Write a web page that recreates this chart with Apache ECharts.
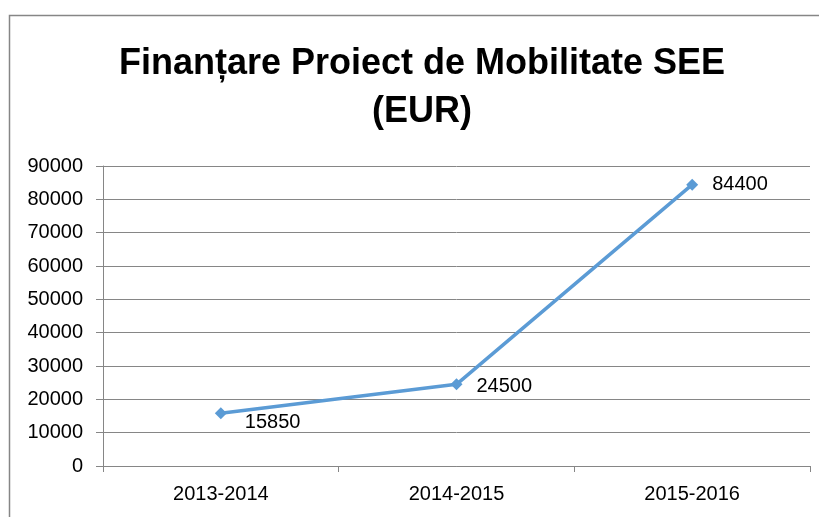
<!DOCTYPE html>
<html><head><meta charset="utf-8">
<script src="https://cdn.jsdelivr.net/npm/echarts@6/dist/echarts.min.js"></script>
<style>html,body{margin:0;padding:0;background:#fff}#c{width:819px;height:517px}</style>
</head><body><div id="c"></div>
<script>
var titleText = 'Finanțare Proiect de Mobilitate SEE\n(EUR)';
var categories = ['2013-2014', '2014-2015', '2015-2016'];
var values = [15850, 24500, 84400];
var yTicks = [0, 10000, 20000, 30000, 40000, 50000, 60000, 70000, 80000, 90000];

var fontFam = '"Liberation Sans", Arial, sans-serif';
var chart = echarts.init(document.getElementById('c'));
chart.setOption({
  animation: false,
  backgroundColor: '#fff',
  title: {
    text: titleText, left: 417, top: 35, textAlign: 'center',
    textStyle: { fontFamily: fontFam, fontWeight: 'bold', fontSize: 36, lineHeight: 48, color: '#000' }
  },
  graphic: [{
    type: 'polyline', silent: true,
    shape: { points: [[9.5, 520], [9.5, 15.5], [830, 15.5]] },
    style: { stroke: '#868686', lineWidth: 1.5, fill: null }
  }],
  grid: { left: 103, right: 9, top: 166, bottom: 51, containLabel: false },
  xAxis: {
    type: 'category', data: categories, boundaryGap: true,
    axisLine: { lineStyle: { color: '#868686', width: 1 } },
    axisTick: { show: true, length: 6, lineStyle: { color: '#868686' } },
    axisLabel: { color: '#000', fontFamily: fontFam, fontSize: 20, margin: 18 }
  },
  yAxis: {
    type: 'value', min: yTicks[0], max: yTicks[yTicks.length - 1], interval: 10000,
    axisLine: { show: true, lineStyle: { color: '#868686', width: 1 } },
    axisTick: { show: true, length: 7, lineStyle: { color: '#868686' } },
    splitLine: { show: true, lineStyle: { color: '#868686', width: 1 } },
    axisLabel: { color: '#000', fontFamily: fontFam, fontSize: 20, margin: 20,
      formatter: function (v) { return String(v); } }
  },
  series: [{
    type: 'line', data: values,
    symbol: 'diamond', symbolSize: 12,
    lineStyle: { color: '#5B9BD5', width: 3.5 },
    itemStyle: { color: '#5B9BD5' },
    label: {
      show: true, position: 'right', distance: 14, color: '#000',
      fontFamily: fontFam, fontSize: 20
    },
    labelLayout: function (p) {
      if (p.dataIndex === 0) { return { dx: 4, dy: 9 }; }
      if (p.dataIndex === 1) { return { dy: 2 }; }
      return {};
    }
  }]
});
</script></body></html>
